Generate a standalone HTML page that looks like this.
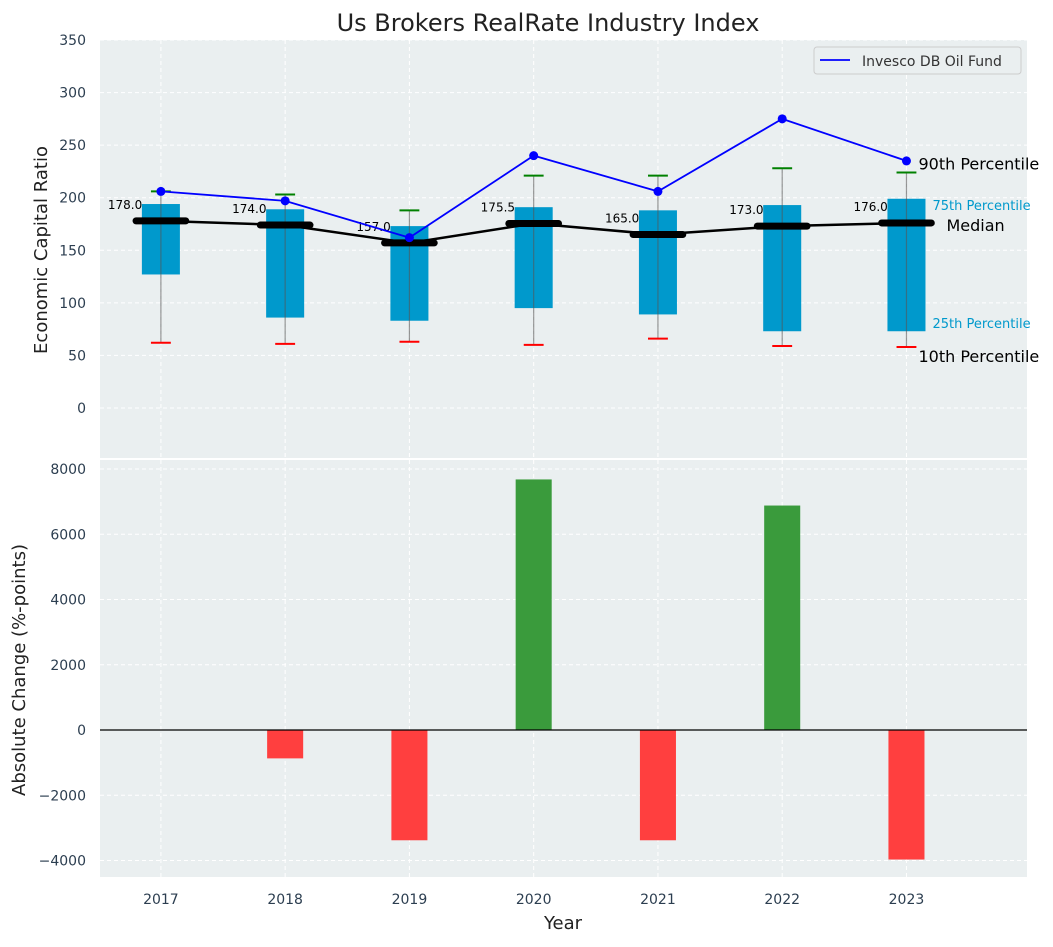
<!DOCTYPE html>
<html><head><meta charset="utf-8"><style>
body{margin:0;background:#fff;font-family:"Liberation Sans","DejaVu Sans",sans-serif}
svg text{font-family:"DejaVu Sans","Liberation Sans",sans-serif}
</style></head><body>
<svg id="c" width="1053" height="942" xmlns="http://www.w3.org/2000/svg"></svg>
<script>
const years=[2017,2018,2019,2020,2021,2022,2023];
const p10=[62,61,63,60,66,59,58];
const p25=[127,86,83,95,89,73,73];
const median=[178,174,157,175.5,165,173,176];
const p75=[194,189,173,191,188,193,199];
const p90=[206,203,188,221,221,228,224];
const oil=[206,197,162,240,206,275,235];
const changes=[0,-870,-3380,7680,-3380,6880,-3970];
const topTicks=[0,50,100,150,200,250,300,350];
const botTicks=[-4000,-2000,0,2000,4000,6000,8000];

const NS='http://www.w3.org/2000/svg';
const svg=document.getElementById('c');
function el(t,a,txt){const e=document.createElementNS(NS,t);for(const k in a)e.setAttribute(k,a[k]);if(txt!==undefined)e.textContent=txt;svg.appendChild(e);return e;}
const L=100,R=1027;
const X=v=>L+(v-2016.51)/(2023.97-2016.51)*(R-L);
const Y1=v=>408-v*(368/350);
const Y2=v=>730-v*(261/8000);
const tickCol='#2c3e50';

let e;
e=el('rect',{x:L,y:40,width:R-L,height:418,fill:'#eaeff0'});

e=el('rect',{x:L,y:460,width:R-L,height:417,fill:'#eaeff0'});


years.forEach(y=>{
 el('line',{x1:X(y),x2:X(y),y1:40,y2:458,stroke:'#fff','stroke-dasharray':'4,3','stroke-width':1});
 el('line',{x1:X(y),x2:X(y),y1:460,y2:877,stroke:'#fff','stroke-dasharray':'4,3','stroke-width':1});
});
topTicks.forEach(t=>{
 el('line',{x1:L,x2:R,y1:Y1(t),y2:Y1(t),stroke:'#fff','stroke-dasharray':'4,3'});
 e=el('text',{x:86,y:Y1(t)+5,'text-anchor':'end','font-size':14,fill:tickCol},t);
 
});
botTicks.forEach(t=>{
 el('line',{x1:L,x2:R,y1:Y2(t),y2:Y2(t),stroke:'#fff','stroke-dasharray':'4,3'});
 e=el('text',{x:86,y:Y2(t)+5,'text-anchor':'end','font-size':14,fill:tickCol},t<0?'\u2212'+Math.abs(t):t);
 
});
years.forEach(y=>{
 e=el('text',{x:X(y),y:904,'text-anchor':'middle','font-size':14,fill:tickCol},y);
 
});

const hw=0.153;
years.forEach((y,i)=>{
 e=el('rect',{x:X(y-hw),y:Y1(p75[i]),width:X(y+hw)-X(y-hw),height:Y1(p25[i])-Y1(p75[i]),fill:'#0099cc'});
 
 e=el('line',{x1:X(y),x2:X(y),y1:Y1(p90[i]),y2:Y1(p10[i]),stroke:'#555','stroke-opacity':0.6,'stroke-width':1.2});
 
 e=el('line',{x1:X(y-0.08),x2:X(y+0.08),y1:Y1(p90[i]),y2:Y1(p90[i]),stroke:'green','stroke-width':2});
 
 e=el('line',{x1:X(y-0.08),x2:X(y+0.08),y1:Y1(p10[i]),y2:Y1(p10[i]),stroke:'red','stroke-width':2});
 
});
e=el('polyline',{points:years.map((y,i)=>X(y)+','+Y1(median[i])).join(' '),fill:'none',stroke:'#000','stroke-width':2.5});

years.forEach((y,i)=>{
 e=el('line',{x1:X(y-0.2),x2:X(y+0.2),y1:Y1(median[i]),y2:Y1(median[i]),stroke:'#000','stroke-width':7,'stroke-linecap':'round'});
 
 e=el('text',{x:X(y-0.15),y:Y1(median[i])-12,'text-anchor':'end','font-size':12,fill:'#000'},median[i].toFixed(1));
 
});
e=el('polyline',{points:years.map((y,i)=>X(y)+','+Y1(oil[i])).join(' '),fill:'none',stroke:'blue','stroke-width':1.8});

years.forEach((y,i)=>{
 e=el('circle',{cx:X(y),cy:Y1(oil[i]),r:4.5,fill:'blue'});
 
});
const ly=years.length-1,lx=X(years[ly]);
[['90th Percentile',Y1(p90[ly])-3,16,'#000',12],['75th Percentile',Y1(p75[ly])+11,13,'#0099cc',26],['Median',Y1(median[ly])+8,16,'#000',40],['25th Percentile',Y1(p25[ly])-3,13,'#0099cc',26],['10th Percentile',Y1(p10[ly])+15,16,'#000',12]].forEach(a=>{
 e=el('text',{x:lx+a[4],y:a[1],'font-size':a[2],fill:a[3]},a[0]);
 
});
e=el('rect',{x:814,y:47,width:207,height:27,rx:3,fill:'#eaeff0',stroke:'#ccc'});

el('line',{x1:820,x2:850,y1:60,y2:60,stroke:'blue','stroke-width':1.8});
e=el('text',{x:862,y:66,'font-size':14,fill:'#333'},'Invesco DB Oil Fund');


years.forEach((y,i)=>{
 const v=changes[i];
 e=el('rect',{x:X(y-0.145),y:Math.min(Y2(0),Y2(v)),width:X(y+0.145)-X(y-0.145),height:Math.abs(Y2(v)-Y2(0)),fill:v>=0?'#3a9b3c':'#ff3f3f'});
 
});
el('line',{x1:L,x2:R,y1:Y2(0),y2:Y2(0),stroke:'#000','stroke-width':1.2});

e=el('text',{x:548,y:31,'text-anchor':'middle','font-size':24,fill:'#222'},'Us Brokers RealRate Industry Index');

e=el('text',{x:563,y:929,'text-anchor':'middle','font-size':18,fill:'#222'},'Year');

e=el('text',{x:47,y:250,'text-anchor':'middle','font-size':18,fill:'#222',transform:'rotate(-90 47 250)'},'Economic Capital Ratio');

e=el('text',{x:25,y:670,'text-anchor':'middle','font-size':18,fill:'#222',transform:'rotate(-90 25 670)'},'Absolute Change (%-points)');

</script>
</body></html>
